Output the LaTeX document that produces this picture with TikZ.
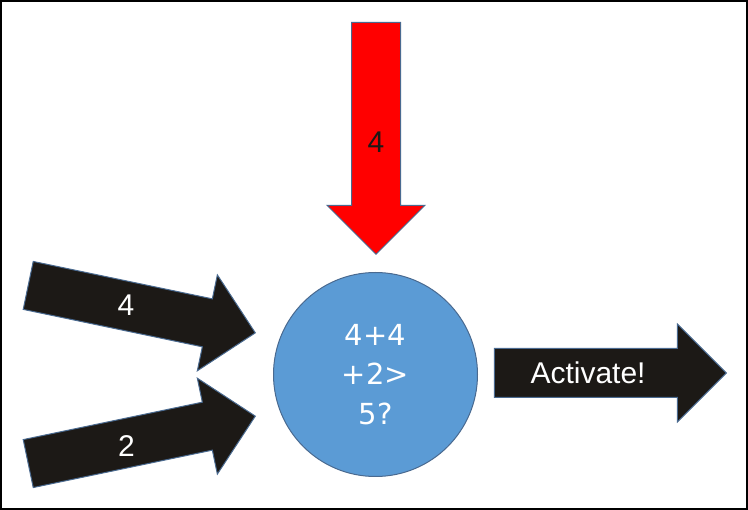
\documentclass[tikz,border=0pt]{standalone}
\usepackage{fontspec}
\setmainfont{Liberation Sans}
\newfontfamily\neuronfont{DejaVu Sans}
\usetikzlibrary{shapes.arrows, positioning, calc}
\definecolor{neuronblue}{HTML}{5B9BD5}
\definecolor{edgeblue}{HTML}{4A6A90}
\definecolor{arrowblack}{HTML}{1C1916}

\begin{document}
\begin{tikzpicture}[x=1pt, y=-1pt,
    blockarrow/.style={draw=edgeblue, line width=1pt, single arrow, single arrow head extend=24.5pt, minimum height=232pt, minimum width=48pt, text height=22pt, text depth=0pt, inner ysep=13pt, inner xsep=0pt, anchor=tip, fill=arrowblack, text=white, font=\fontsize{30}{36}\selectfont},
    neuron/.style={draw=edgeblue, line width=1pt, circle, minimum size=204pt, inner sep=0pt, fill=neuronblue, text=white, align=center, font=\neuronfont\fontsize{29}{39.5}\selectfont}
]
\useasboundingbox (0,0) rectangle (748,510);
\draw[line width=2pt] (1,1) rectangle (747,509);

% the neuron
\node[neuron] (neuron) at (375.5,374.5) {4+4\\+2>\\5?};

% inputs
\node[blockarrow, rotate=-11.8] (input1) at (256,333) {\kern-4pt\rotatebox{11.8}{4}\kern4pt};
\node[blockarrow, rotate=11.8] (input2) at (256,416) {\kern-4pt\rotatebox{-11.8}{2}\kern4pt};
\node[blockarrow, fill=red, rotate=-90] (input3) at (376,255) {};
\node[text=arrowblack, font=\fontsize{30}{36}\selectfont] (weight3) at (376,142) {4};

% output
\node[blockarrow] (output) at (727,373) {\kern-10pt Activate!\kern10pt};
\end{tikzpicture}
\end{document}
